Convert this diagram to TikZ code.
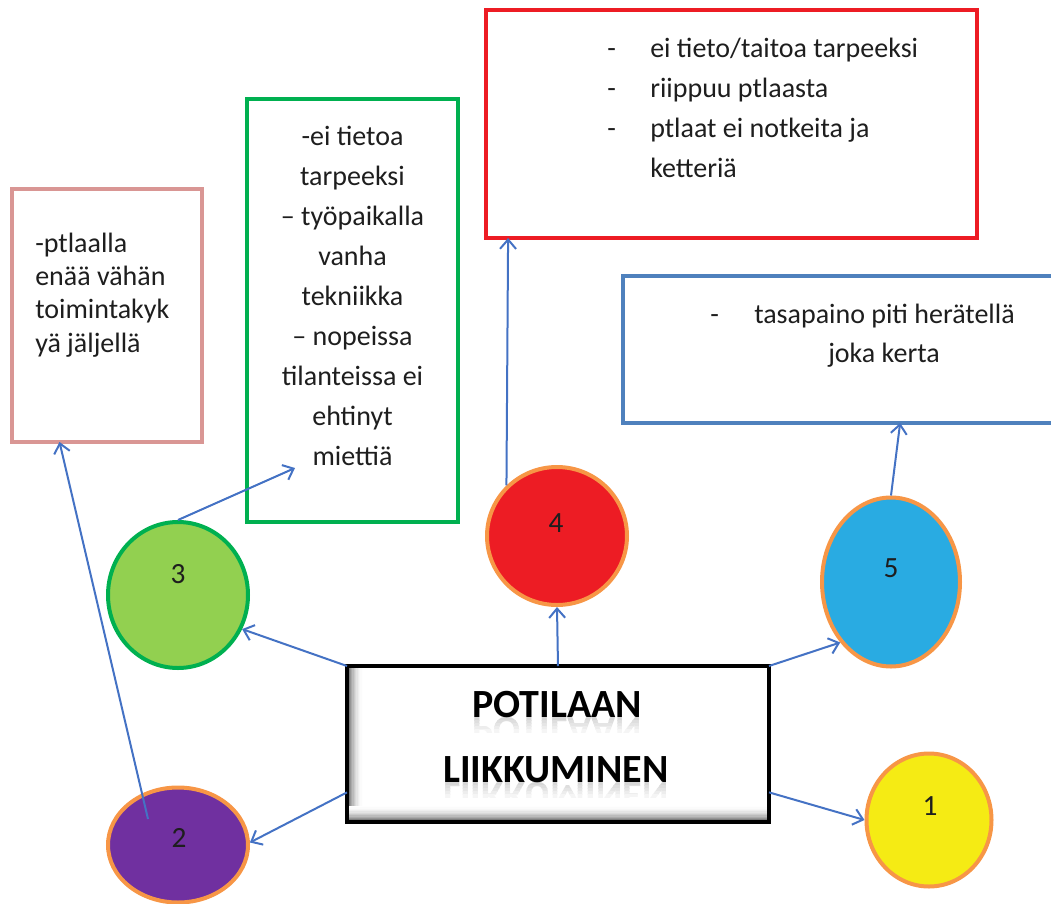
\documentclass[tikz,border=0pt]{standalone}
\usepackage{fontspec}
\setmainfont{Carlito}
\usetikzlibrary{arrows.meta,shapes.geometric,calc}

\definecolor{arrowblue}{RGB}{68,114,196}
\definecolor{ringorange}{RGB}{247,150,70}
\definecolor{pinkline}{RGB}{217,150,148}
\definecolor{greenline}{RGB}{0,176,80}
\definecolor{redline}{RGB}{237,28,36}
\definecolor{blueline}{RGB}{79,129,189}
\definecolor{fillgreen}{RGB}{146,208,80}
\definecolor{fillred}{RGB}{237,28,36}
\definecolor{fillblue}{RGB}{41,171,226}
\definecolor{fillpurple}{RGB}{112,48,160}
\definecolor{fillyellow}{RGB}{245,235,20}
\definecolor{inkgray}{RGB}{30,30,30}

\begin{document}
\begin{tikzpicture}[x=0.75pt,y=-0.75pt,
  notebox/.style={rectangle, draw, line width=3pt, fill=white, inner sep=0pt, outer sep=0pt},
  blob/.style={ellipse, draw=ringorange, line width=3pt, inner sep=0pt},
  arr/.style={draw=arrowblue, line width=1.5pt,
    -{Straight Barb[length=7pt,width=12pt,line width=1.5pt]}},
  txt/.style={font=\fontsize{21}{25}\selectfont, text=inkgray, anchor=base west, inner sep=0pt},
  ctxt/.style={txt, anchor=base},
  num/.style={font=\fontsize{22}{26}\selectfont, text=inkgray, anchor=base, inner sep=0pt},
  head/.style={font=\bfseries\fontsize{30}{36}\selectfont, text=black, anchor=base, inner sep=0pt},
  mirror/.style={head, transform shape}]

\useasboundingbox (0,0) rectangle (1051,904);
\clip (0,0) rectangle (1051,904);

% note boxes
\node[notebox, draw=pinkline, minimum width=142.5pt, minimum height=189.75pt] (pink) at (107,315.5) {};
\node[notebox, draw=greenline, minimum width=158.25pt, minimum height=317.25pt] (green) at (352.5,310.5) {};
\node[notebox, draw=redline, minimum width=368.25pt, minimum height=171pt] (red) at (731.5,124) {};
\node[notebox, draw=blueline, minimum width=335.25pt, minimum height=110.25pt] (blue) at (846.5,349.5) {};

% pink box text
\foreach \t [count=\i] in {-ptlaalla, enää vähän, toimintakyk, yä jäljellä}
  \node[txt] (pk\i) at (35,219+33.3*\i) {\t};

% green box text
\foreach \t [count=\i] in {-ei tietoa, tarpeeksi, – työpaikalla, vanha, tekniikka,
    – nopeissa, tilanteissa ei, ehtinyt, miettiä}
  \node[ctxt] (gr\i) at (352.5,105+40*\i) {\t};

% red box text
\foreach \i in {1,2,3}
  \node[txt] (rd\i) at (607,17+40*\i) {-};
\foreach \t [count=\i] in {ei tieto/taitoa tarpeeksi, riippuu ptlaasta, ptlaat ei notkeita ja, ketteriä}
  \node[txt] (rt\i) at (650,17+40*\i) {\t};

% blue box text
\node[txt] (bd) at (710,323) {-};
\node[txt] (bt1) at (754,323) {tasapaino piti herätellä};
\node[txt] (bt2) at (828,362) {joka kerta};

% central box with a soft inner shadow along the left and bottom sides
\node[rectangle, draw=black, line width=3.5pt, fill=white, inner sep=0pt, outer sep=0pt,
  minimum width=316.5pt, minimum height=117pt,
  path picture={
    \foreach \k [evaluate=\k as \s using {60*(1-\k/12)^2}] in {0,...,11} {
      \fill[black!\s] ([xshift=\k*1pt]path picture bounding box.south west)
        rectangle ([xshift=\k*1pt+1.1pt]path picture bounding box.north west);
    }
    \foreach \k [evaluate=\k as \s using {60*(1-\k/12)^2}] in {0,...,11} {
      \fill[black!\s] ([yshift=\k*1pt]path picture bounding box.south west)
        rectangle ([yshift=\k*1pt+1.1pt]path picture bounding box.south east);
    }
  }] (c) at (558,744) {};

% heading with a faint, fading reflection under each line
\foreach \bl/\cx/\word/\nm in {717/557/POTILAAN/h1r, 782/556/LIIKKUMINEN/h2r} {
  \foreach \j [evaluate=\j as \shadeval using {16-3*\j}] in {0,...,4} {
    \begin{scope}
      \clip (c.west |- 0,\bl+3*\j) rectangle (c.east |- 0,\bl+3*\j+3.2);
      \begin{scope}[shift={(\cx,\bl)}, yscale=-1]
        \node[mirror, text=black!\shadeval] (\nm\j) at (0,0) {\word};
      \end{scope}
    \end{scope}
  }
}
\node[head] (h1) at (557,717) {POTILAAN};
\node[head] (h2) at (556,782) {LIIKKUMINEN};

% numbered circles
\node[blob, draw=greenline, fill=fillgreen, minimum width=105pt, minimum height=109.5pt] (c3) at (178,595) {};
\node[blob, fill=fillred, minimum width=105pt, minimum height=103.5pt] (c4) at (557,536) {};
\node[blob, fill=fillblue, minimum width=103.5pt, minimum height=126.75pt] (c5) at (891,582) {};
\node[blob, fill=fillpurple, minimum width=105pt, minimum height=86.25pt] (c2) at (178,845) {};
\node[blob, fill=fillyellow, minimum width=93.75pt, minimum height=99.75pt] (c1) at (929,820) {};

\node[num] (n3) at (178,583) {3};
\node[num] (n4) at (556,532) {4};
\node[num] (n5) at (891,577) {5};
\node[num] (n2) at (179,847) {2};
\node[num] (n1) at (930,815) {1};

% connectors
\coordinate (in3) at (295,468);
\coordinate (in2) at (148,819);
\draw[arr] (c.north) -- (c4.south);
\draw[arr] (c4.135) -- ($(red.south west)!0.045!(red.south east)$);
\draw[arr] (c.north west) -- (c3.-28);
\draw[arr] (c3.north) -- (in3);
\draw[arr] ($(c.south west)!0.19!(c.north west)$) -- (c2.2);
\draw[arr] (in2) -- ($(pink.south west)!0.25!(pink.south east)$);
\draw[arr] (c.north east) -- (c5.230);
\draw[arr] (c5.north) -- ($(blue.south west)!0.62!(blue.south east)$);
\draw[arr] ($(c.south east)!0.19!(c.north east)$) -- (c1.west);
\end{tikzpicture}
\end{document}
